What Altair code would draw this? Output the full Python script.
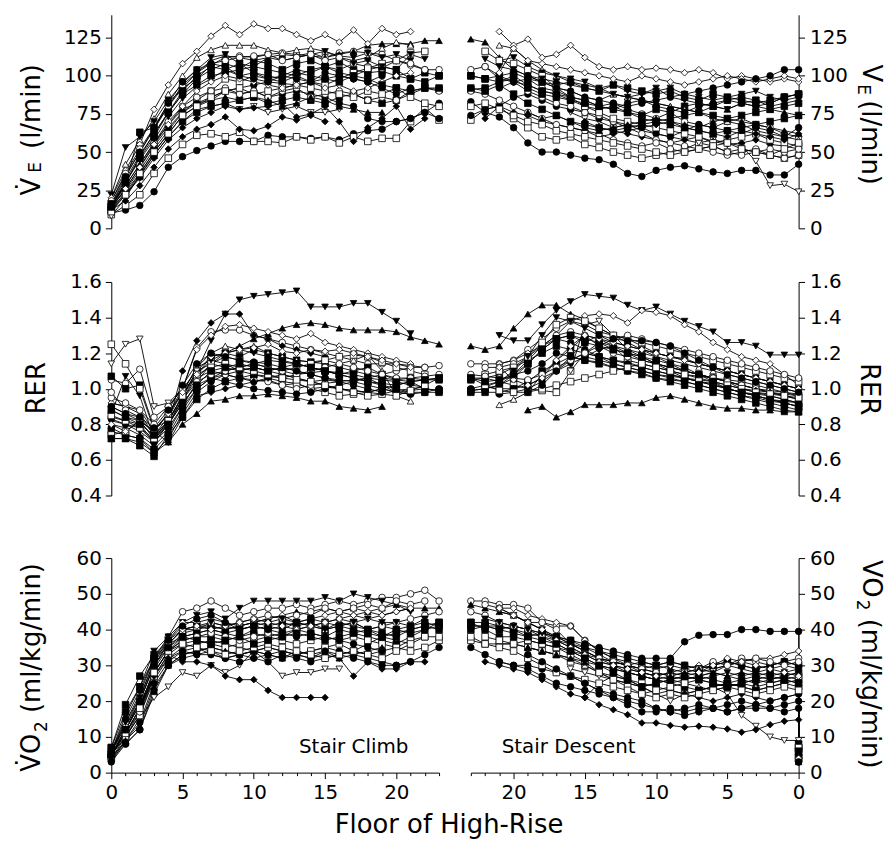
import altair as alt
import pandas as pd

N = None
FONT = "DejaVu Sans"

SUBJECTS = [f"S{i}" for i in range(1, 25)]
SHAPES = ["circle", "circle", "square", "square", "triangle-up", "triangle-up",
          "triangle-down", "triangle-down", "diamond", "diamond",
          "circle", "circle", "square", "square", "circle", "diamond",
          "square", "circle", "triangle-down", "triangle-up",
          "square", "diamond", "circle", "square"]
FILLS = ["black", "white", "black", "white", "black", "white", "black", "white", "black", "white",
         "black", "white", "black", "white", "black", "black", "black", "white", "black", "black",
         "white", "white", "black", "black"]

FLOOR_TICKS = list(range(24))
VE_TICKS = [0, 25, 50, 75, 100, 125]
RER_TICKS = [0.4, 0.6, 0.8, 1.0, 1.2, 1.4, 1.6]
VO2_TICKS = [0, 10, 20, 30, 40, 50, 60]

# ---- V_E, stair climb (index = floor 0..23) ----
VE_CLIMB = [
    [10,12,15,24,40,47,51,54,57,57,57,61,60,60,59,60,58,62,64,65,70,72,76,82],
    [16,30,47,62,76,88,98,107,112,113,112,114,115,114,113,112,115,116,115,114,110,107,104,104],
    [14,30,63,66,82,92,98,104,108,105,110,108,104,108,110,106,109,104,102,103,100,98,102,100],
    [9,15,22,36,46,55,61,62,60,63,57,57,56,60,58,60,56,60,57,59,59,70,79,71],
    [18,35,50,65,80,92,102,110,113,112,110,112,114,113,115,112,114,116,120,121,121,121,123,123],
    [20,42,58,72,88,100,112,117,120,120,120,117,115,117,118,116,112,110,112,118,122,120,N,N],
    [22,53,60,70,84,95,104,112,114,108,106,112,110,112,114,116,113,112,115,112,114,110,N,N],
    [8,20,35,48,60,70,78,80,82,78,80,76,78,80,76,76,78,N,N,N,N,N,N,N],
    [12,18,28,40,52,60,65,68,73,65,64,67,73,71,74,70,N,N,N,N,N,N,N,N],
    [20,38,55,78,94,108,116,126,133,127,134,131,131,127,123,127,122,130,121,131,127,129,N,N],
    [12,24,36,50,62,74,80,84,90,88,90,86,88,90,88,86,82,80,72,70,70,72,76,72],
    [18,36,52,66,80,94,102,108,110,112,113,114,110,112,114,110,112,108,106,105,110,108,104,N],
    [16,32,48,62,76,88,94,100,102,104,106,104,102,100,104,106,102,100,104,106,104,98,96,100],
    [13,26,40,54,66,76,84,90,98,96,100,98,96,100,96,94,98,102,105,108,110,115,116,N],
    [14,25,38,52,64,76,82,86,90,92,94,96,95,94,96,98,100,98,96,92,88,92,N,N],
    [14,22,33,46,58,66,72,76,80,78,79,80,82,73,75,80,70,57,66,72,80,65,72,N],
    [12,22,34,48,60,70,76,80,82,84,86,82,84,86,84,82,86,88,84,82,84,90,92,91],
    [14,28,42,56,70,80,86,90,92,88,90,86,90,92,86,88,90,88,84,86,84,88,92,90],
    [15,30,45,58,73,85,93,98,104,100,102,98,100,104,102,106,104,108,110,106,104,114,111,N],
    [15,28,42,56,68,78,82,84,86,84,86,84,80,82,86,84,80,78,76,76,N,N,N,N],
    [11,22,36,50,62,74,80,86,90,92,88,90,92,94,92,90,88,86,90,88,92,86,82,80],
    [14,26,40,55,68,80,90,96,100,98,96,94,92,94,96,92,94,90,92,96,100,102,N,N],
    [16,34,50,66,82,96,104,108,106,100,98,96,100,98,96,102,100,98,96,100,N,N,N,N],
    [14,30,46,60,76,90,100,106,104,108,102,100,98,102,100,98,96,100,98,94,92,90,92,92],
]

# ---- V_E, stair descent (index = floor 0..23) ----
VE_DESCENT = [
    [42,35,35,38,38,36,37,39,41,40,38,34,36,42,45,46,48,50,50,56,66,73,76,83],
    [60,62,66,68,72,70,66,68,70,76,72,75,78,82,80,84,86,90,92,98,96,100,106,104],
    [88,86,82,84,86,84,80,82,80,76,78,74,76,80,78,80,84,88,90,94,100,96,98,100],
    [48,46,48,50,52,50,54,56,52,50,48,46,48,50,53,55,60,58,60,66,72,80,78,71],
    [74,76,78,80,82,78,80,76,78,80,82,84,86,88,84,86,90,92,96,100,104,112,122,124],
    [58,60,62,64,68,70,72,76,78,80,82,84,86,88,92,94,96,100,104,110,118,120,N,N],
    [84,82,80,84,82,78,80,82,84,86,92,88,90,94,92,96,98,100,102,106,112,110,N,N],
    [24,29,28,44,54,56,58,56,58,60,62,64,68,66,70,72,76,N,N,N,N,N,N,N],
    [52,54,55,58,56,55,57,60,58,56,58,60,62,64,66,70,N,N,N,N,N,N,N,N],
    [96,98,96,98,100,98,102,104,102,104,105,104,106,104,106,112,120,114,112,124,120,129,N,N],
    [66,60,64,66,62,64,66,68,64,60,62,66,68,70,72,76,78,80,84,88,86,80,78,74],
    [48,46,48,52,50,48,50,52,54,56,58,62,66,70,74,76,80,82,86,90,96,98,106,N],
    [88,86,84,82,84,86,88,84,86,90,88,90,92,94,90,92,96,94,96,98,102,100,98,100],
    [54,56,58,62,60,58,56,60,62,64,66,68,70,72,76,80,86,92,100,104,108,110,116,N],
    [88,86,82,80,82,84,82,80,76,78,80,84,82,78,80,84,86,88,90,94,96,92,N,N],
    [62,58,60,62,64,60,62,64,66,70,68,66,64,62,60,64,66,68,70,74,76,80,72,N],
    [74,72,70,68,66,64,62,64,66,68,70,72,76,78,80,82,84,86,88,92,98,96,92,91],
    [52,50,52,50,48,50,54,52,50,52,56,54,56,58,62,64,66,68,72,76,80,84,88,90],
    [86,84,86,90,88,86,84,86,88,92,90,88,86,88,90,92,94,96,98,100,104,106,111,N],
    [62,64,66,68,70,72,70,66,68,70,72,70,68,66,64,66,70,74,72,76,N,N,N,N],
    [56,52,48,50,52,56,54,52,50,48,50,52,54,56,58,60,62,64,68,70,74,78,82,80],
    [98,100,98,96,98,100,98,96,94,96,98,100,96,98,100,102,104,106,108,110,118,102,N,N],
    [104,104,100,98,96,94,92,90,88,86,84,82,80,82,84,86,90,92,96,100,N,N,N,N],
    [82,80,78,76,74,72,74,76,74,72,70,68,66,64,66,68,70,74,78,82,88,94,90,92],
]

# ---- RER, stair climb ----
RER_CLIMB = [
    [0.84,0.82,0.80,0.70,0.80,0.92,1.02,1.06,1.08,1.06,1.04,1.05,1.02,1.03,1.00,1.01,1.00,0.99,0.98,1.00,0.98,0.97,0.98,1.00],
    [1.05,1.03,1.11,0.84,0.90,1.00,1.23,1.32,1.33,1.33,1.30,1.28,1.26,1.24,1.22,1.20,1.18,1.16,1.14,1.14,1.14,1.13,1.12,1.13],
    [1.07,1.00,1.02,0.78,0.82,0.96,1.10,1.18,1.20,1.18,1.22,1.20,1.18,1.16,1.15,1.14,1.12,1.10,1.08,1.06,1.05,1.06,1.05,1.05],
    [1.25,1.14,1.00,0.77,0.86,0.98,1.12,1.16,1.14,1.10,1.08,1.06,1.04,1.03,1.00,0.98,0.96,0.97,0.98,1.00,1.02,1.04,1.05,1.06],
    [0.80,0.78,0.74,0.68,0.76,0.90,1.04,1.14,1.20,1.24,1.28,1.31,1.34,1.36,1.37,1.36,1.34,1.33,1.33,1.33,1.32,1.29,1.27,1.25],
    [0.92,0.90,0.86,0.74,0.84,0.98,1.12,1.20,1.24,1.22,1.24,1.20,1.18,1.16,1.15,1.16,1.14,1.16,1.19,1.10,0.96,0.93,N,N],
    [0.86,1.07,0.96,0.72,0.82,0.96,1.10,1.27,1.42,1.50,1.52,1.53,1.54,1.55,1.46,1.46,1.46,1.48,1.48,1.43,1.38,1.31,N,N],
    [1.14,1.25,1.28,0.90,0.92,1.00,1.10,1.14,1.12,1.10,1.12,1.10,1.08,1.06,1.04,1.05,1.04,N,N,N,N,N,N,N],
    [0.90,0.86,0.82,0.72,0.80,1.10,1.27,1.37,1.42,1.42,1.30,1.28,1.24,1.22,1.20,1.18,N,N,N,N,N,N,N,N],
    [0.92,0.90,0.88,0.76,0.86,1.00,1.22,1.30,1.35,1.36,1.34,1.32,1.30,1.28,1.31,1.26,1.24,1.22,1.20,1.18,1.16,1.14,N,N],
    [0.78,0.74,0.72,0.64,0.72,0.86,0.98,1.04,1.08,1.10,1.12,1.10,1.12,1.10,1.08,1.06,1.05,1.04,1.02,1.00,0.98,0.99,1.00,0.99],
    [0.95,0.92,0.88,0.80,0.90,1.00,1.06,1.10,1.08,1.06,1.05,1.04,1.02,1.00,1.02,1.03,1.04,1.05,1.06,1.08,1.10,1.12,1.12,N],
    [0.76,0.74,0.72,0.66,0.74,0.88,1.00,1.06,1.10,1.12,1.14,1.16,1.15,1.14,1.12,1.10,1.08,1.10,1.12,1.08,1.05,1.04,1.00,0.99],
    [0.74,0.76,0.82,0.72,0.80,0.94,1.06,1.14,1.18,1.16,1.14,1.12,1.10,1.12,1.14,1.16,1.18,1.19,1.18,1.15,1.12,1.10,1.08,N],
    [0.83,0.80,0.78,0.70,0.78,0.90,1.00,1.06,1.04,1.02,1.00,0.99,0.98,0.97,0.98,1.00,1.02,1.04,1.06,1.02,0.98,0.97,N,N],
    [0.88,0.84,0.82,0.76,0.70,0.84,0.96,0.98,1.00,1.02,1.04,1.06,1.08,1.06,1.04,1.02,1.00,0.99,0.98,0.97,0.99,1.00,1.01,N],
    [0.72,0.72,0.68,0.62,0.74,0.84,0.94,1.00,1.04,1.06,1.08,1.07,1.06,1.08,1.09,1.10,1.08,1.06,1.04,1.02,1.00,0.98,0.98,0.98],
    [0.98,0.88,0.84,0.74,0.82,0.94,1.04,1.08,1.10,1.12,1.14,1.12,1.10,1.08,1.10,1.12,1.14,1.12,1.10,1.08,1.06,1.06,1.07,1.08],
    [0.82,0.80,0.76,0.70,0.80,0.94,1.08,1.16,1.20,1.22,1.20,1.18,1.16,1.14,1.12,1.10,1.09,1.08,1.06,1.05,1.04,1.02,1.01,N],
    [0.72,0.72,0.70,0.64,0.70,0.80,0.86,0.93,0.94,0.96,0.96,0.97,0.96,0.95,0.93,0.93,0.90,0.89,0.88,0.90,N,N,N,N],
    [0.85,0.82,0.78,0.72,0.82,0.96,1.08,1.12,1.14,1.12,1.10,1.08,1.06,1.05,1.04,1.02,1.00,0.98,0.96,0.97,0.96,0.99,1.02,1.06],
    [0.80,0.76,0.82,0.76,0.86,0.98,1.08,1.18,1.20,1.22,1.23,1.25,1.21,1.20,1.22,1.21,1.22,1.20,1.18,1.16,1.14,1.12,N,N],
    [0.90,0.86,0.84,0.78,0.88,1.02,1.14,1.20,1.18,1.16,1.15,1.14,1.12,1.10,1.08,1.06,1.04,1.02,1.00,0.98,N,N,N,N],
    [0.88,0.84,0.80,0.74,0.80,0.92,1.02,1.10,1.12,1.14,1.12,1.10,1.12,1.14,1.12,1.10,1.08,1.06,1.04,1.03,1.02,1.04,1.05,1.06],
]

# ---- RER, stair descent ----
RER_DESCENT = [
    [0.90,0.92,0.93,0.95,0.96,0.98,1.00,1.02,1.04,1.05,1.06,1.09,1.10,1.12,1.15,1.16,1.18,1.20,1.14,1.10,1.08,1.04,1.02,1.00],
    [1.00,1.02,1.04,1.06,1.08,1.10,1.12,1.14,1.17,1.18,1.20,1.24,1.28,1.30,1.32,1.36,1.38,1.34,1.28,1.22,1.16,1.14,1.14,1.14],
    [0.92,0.94,0.96,0.97,0.98,1.00,1.03,1.04,1.06,1.08,1.10,1.12,1.15,1.16,1.18,1.20,1.22,1.24,1.20,1.16,1.12,1.08,1.06,1.05],
    [0.96,0.98,1.00,1.02,1.04,1.05,1.06,1.07,1.08,1.10,1.12,1.14,1.16,1.24,1.26,1.20,1.10,0.98,0.99,1.00,1.02,1.04,1.06,1.06],
    [0.92,0.94,0.96,0.98,1.00,1.04,1.06,1.08,1.10,1.14,1.18,1.22,1.26,1.30,1.34,1.39,1.42,1.47,1.47,1.42,1.34,1.24,1.22,1.24],
    [0.98,1.00,1.02,1.04,1.06,1.08,1.10,1.12,1.14,1.16,1.18,1.20,1.22,1.24,1.28,1.30,1.22,1.16,1.08,0.98,0.94,0.91,N,N],
    [1.19,1.19,1.19,1.24,1.26,1.26,1.32,1.35,1.38,1.42,1.46,1.44,1.47,1.51,1.52,1.53,1.49,1.44,1.36,1.27,1.27,1.30,N,N],
    [0.94,0.96,0.98,1.00,1.02,1.04,1.06,1.08,1.10,1.12,1.14,1.18,1.22,1.30,1.38,1.36,1.10,N,N,N,N,N,N,N],
    [0.96,0.97,0.98,1.00,1.02,1.04,1.06,1.08,1.10,1.12,1.14,1.16,1.20,1.24,1.22,1.18,N,N,N,N,N,N,N,N],
    [1.02,1.08,1.14,1.16,1.18,1.22,1.26,1.32,1.36,1.41,1.43,1.44,1.37,1.41,1.42,1.41,1.38,1.30,1.24,1.20,1.16,1.14,N,N],
    [0.88,0.90,0.92,0.94,0.96,0.98,1.00,1.02,1.04,1.06,1.08,1.10,1.12,1.14,1.18,1.22,1.26,1.28,1.24,1.16,1.08,1.02,1.00,0.99],
    [0.97,0.98,0.99,1.00,1.02,1.04,1.06,1.08,1.10,1.12,1.14,1.16,1.18,1.20,1.24,1.30,1.32,1.30,1.24,1.18,1.14,1.12,1.12,N],
    [0.90,0.92,0.94,0.96,0.98,1.00,1.02,1.04,1.06,1.10,1.14,1.18,1.20,1.22,1.26,1.28,1.30,1.28,1.22,1.14,1.06,1.02,1.00,0.99],
    [1.04,1.06,1.08,1.10,1.12,1.14,1.16,1.18,1.20,1.22,1.24,1.26,1.28,1.30,1.34,1.38,1.40,1.36,1.26,1.18,1.12,1.10,1.08,N],
    [0.92,0.93,0.94,0.96,0.98,1.00,1.02,1.04,1.06,1.08,1.10,1.12,1.14,1.16,1.18,1.20,1.16,1.10,1.04,1.00,0.98,0.97,N,N],
    [0.94,0.96,0.98,0.99,1.00,1.02,1.04,1.05,1.06,1.07,1.08,1.10,1.12,1.14,1.16,1.18,1.14,1.10,1.06,1.02,1.00,1.00,1.01,N],
    [0.87,0.88,0.90,0.92,0.94,0.96,0.98,1.00,1.02,1.04,1.06,1.08,1.10,1.12,1.14,1.16,1.18,1.14,1.10,1.04,1.00,0.98,0.98,0.98],
    [1.06,1.08,1.10,1.12,1.14,1.16,1.18,1.20,1.22,1.24,1.26,1.28,1.30,1.28,1.24,1.20,1.16,1.12,1.08,1.05,1.06,1.06,1.07,1.08],
    [1.00,1.02,1.04,1.06,1.08,1.10,1.12,1.14,1.16,1.18,1.20,1.22,1.24,1.26,1.30,1.34,1.38,1.40,1.30,1.18,1.10,1.04,1.01,N],
    [0.87,0.87,0.88,0.88,0.89,0.89,0.90,0.92,0.94,0.96,0.95,0.92,0.92,0.91,0.91,0.91,0.87,0.84,0.90,0.88,N,N,N,N],
    [0.95,0.96,0.97,0.98,1.00,1.02,1.04,1.06,1.08,1.10,1.12,1.14,1.12,1.10,1.08,1.06,1.04,1.02,1.00,0.98,0.98,0.99,1.02,1.06],
    [1.00,1.02,1.04,1.06,1.08,1.10,1.12,1.14,1.16,1.18,1.20,1.22,1.24,1.26,1.28,1.30,1.24,1.16,1.06,1.02,1.05,1.12,N,N],
    [0.98,1.00,1.02,1.04,1.06,1.08,1.12,1.16,1.20,1.24,1.26,1.27,1.27,1.28,1.30,1.26,1.18,1.10,1.02,0.98,N,N,N,N],
    [0.90,0.92,0.94,0.96,0.98,1.00,1.04,1.08,1.12,1.14,1.16,1.18,1.20,1.22,1.24,1.26,1.30,1.28,1.22,1.14,1.08,1.05,1.04,1.06],
]

# ---- VO2, stair climb ----
VO2_CLIMB = [
    [4,8,12,22,30,33,34,35,34,33,34,35,34,33,34,35,34,33,32,31,30,31,33,35],
    [6,14,22,32,38,45,46,48,46,44,45,46,46,47,46,47,48,47,48,49,49,50,51,48],
    [7,19,27,33,37,40,41,41,40,41,42,41,42,41,42,40,41,42,40,41,40,41,42,41],
    [5,10,16,26,32,35,36,37,36,35,34,35,34,33,34,35,36,34,33,34,35,34,35,37],
    [6,13,20,30,36,40,40,41,40,41,42,43,44,45,44,46,45,46,45,46,47,46,46,46],
    [5,12,19,28,34,38,39,40,39,38,40,41,40,42,41,40,42,41,40,38,37,36,N,N],
    [6,16,24,34,38,42,44,45,43,46,48,48,48,48,48,49,48,50,49,48,47,45,N,N],
    [3,9,15,21,24,28,27,30,28,30,34,31,27,28,28,29,29,N,N,N,N,N,N,N],
    [5,11,18,27,33,31,31,30,27,26,26,23,21,21,21,21,N,N,N,N,N,N,N,N],
    [6,13,21,31,37,42,42,43,42,41,42,43,44,42,43,44,45,44,43,44,45,46,N,N],
    [4,9,14,25,31,34,35,33,32,31,32,31,33,32,31,32,33,34,36,38,40,39,40,41],
    [5,11,18,29,35,39,40,42,41,42,43,44,43,44,45,46,45,46,47,46,48,47,48,N],
    [5,12,19,28,34,37,38,38,37,38,39,38,39,40,39,38,40,39,38,37,36,38,40,42],
    [4,10,16,27,33,36,37,36,35,36,37,38,37,36,37,38,37,38,37,36,35,37,38,N],
    [3,8,12,23,30,32,33,34,32,33,34,33,32,33,32,34,33,32,31,30,30,31,N,N],
    [5,11,17,27,32,34,33,33,32,33,32,33,34,33,32,33,32,27,31,29,29,31,31,N],
    [7,17,24,32,36,38,39,40,39,40,41,40,41,42,43,42,41,40,39,38,39,40,41,42],
    [5,10,17,28,34,37,38,39,38,37,38,39,38,40,41,42,43,42,40,41,42,43,44,45],
    [6,14,21,31,36,40,41,42,41,40,41,42,43,42,41,40,41,42,43,42,42,41,43,N],
    [4,9,13,24,30,33,34,35,34,33,34,33,32,34,33,34,32,33,34,35,N,N,N,N],
    [5,11,18,28,34,36,35,34,33,34,35,36,35,34,33,32,33,34,33,32,34,36,38,38],
    [6,12,20,30,36,40,41,40,41,42,43,42,41,40,41,42,43,44,45,44,45,46,N,N],
    [6,15,23,32,37,41,43,44,42,40,41,40,39,38,39,38,37,36,35,34,N,N,N,N],
    [5,12,20,30,35,38,37,36,37,38,36,37,38,39,38,37,38,39,40,39,38,40,41,40],
]

# ---- VO2, stair descent ----
VO2_DESCENT = [
    [20,19,18,18,18,17,18,18,17,18,17,17,19,21,22,23,24,25,27,29,30,31,33,35],
    [32,31,30,31,32,30,29,28,29,28,27,28,30,32,34,37,41,41,42,46,47,47,48,48],
    [28,27,28,27,26,25,26,27,26,27,28,29,30,31,33,35,37,38,39,38,40,41,41,41],
    [24,25,24,23,24,25,24,23,22,23,24,25,26,27,28,30,31,33,34,35,36,36,36,37],
    [26,27,26,25,26,27,28,27,26,25,26,27,28,30,32,34,36,38,40,42,44,45,46,47],
    [25,26,25,24,25,24,23,24,25,26,25,24,25,26,28,30,32,33,34,35,36,36,N,N],
    [29,30,29,28,29,30,28,27,28,29,30,31,30,31,32,34,36,38,40,42,44,45,N,N],
    [9,9,10,13,16,22,24,23,22,20,22,24,25,26,27,28,29,N,N,N,N,N,N,N],
    [22,21,20,21,22,21,20,21,22,23,22,24,26,27,25,21,N,N,N,N,N,N,N,N],
    [34,33,32,32,31,30,29,30,29,30,29,30,31,32,34,37,41,42,43,44,46,46,N,N],
    [39.5,39.5,39.5,40,40,38.6,38.6,38.4,36.6,32,32,32,33,34,35,36,37,38,39,40,41,40,41,41],
    [30,31,30,29,30,31,30,29,30,31,30,29,30,31,32,34,36,40,42,42,44,46,47,N],
    [26,25,24,23,24,25,24,23,24,25,26,27,28,29,30,32,34,35,36,37,38,38,40,42],
    [27,26,25,26,25,24,25,26,25,24,23,22,24,26,28,31,33,35,36,37,36,37,38,N],
    [22,21,20,19,18,17,18,19,18,17,18,19,20,21,23,25,27,28,29,30,30,31,N,N],
    [14.8,14.4,13.4,12,11.3,12.2,12.7,13,12.7,13.2,13.9,13.9,16.2,17.6,19,21,22,24,26,28,29,30,31,N],
    [30,31,30,29,30,31,30,29,30,31,30,31,32,33,34,35,36,37,38,39,40,41,42,42],
    [31,30,31,32,31,30,31,29,28,27,28,29,30,31,32,33,34,36,38,40,41,42,44,45],
    [29,28,27,28,27,28,27,26,27,28,27,28,29,30,31,33,35,37,39,40,41,42,43,N],
    [28,27,26,27,28,27,28,29,28,27,26,27,28,29,30,31,32,33,34,35,N,N,N,N],
    [23,24,23,22,23,24,23,22,21,22,21,22,23,24,25,26,27,28,30,32,34,35,36,38],
    [27,28,29,30,31,32,30,28,27,26,27,28,29,30,31,33,35,37,40,42,44,46,N,N],
    [18,17,18,19,20,19,18,17,16,17,18,20,21,22,23,25,27,29,31,33,N,N,N,N],
    [25,26,27,26,25,24,25,26,27,26,25,24,26,28,30,32,34,36,37,38,39,40,41,40],
]

# resting value recorded at ground level after the descent
VO2_REST = [5, 6, 4, 7, 5, 3, 8, 4, 6, 5, 3, 7, 4, 6, 5, 3, 8, 4, 6, 5, 7, 4, 3, 6]

rows = []
def add(panel, arr, descending):
    for si, vals in enumerate(arr):
        vals = (list(vals) + [None] * 24)[:24]
        for fl, v in enumerate(vals):
            if v is None:
                continue
            rows.append(dict(panel=panel, subject=SUBJECTS[si], floor=fl, value=v,
                             seq=(-fl if descending else fl),
                             shape=SHAPES[si], fillc=FILLS[si]))

add("ve_l", VE_CLIMB, False)
add("ve_r", VE_DESCENT, True)
add("rer_l", RER_CLIMB, False)
add("rer_r", RER_DESCENT, True)
add("vo_l", VO2_CLIMB, False)
add("vo_r", VO2_DESCENT, True)
for si, v in enumerate(VO2_REST):
    rows.append(dict(panel="vo_r", subject=SUBJECTS[si], floor=0, value=v, seq=1,
                     shape=SHAPES[si], fillc=FILLS[si]))
df = pd.DataFrame(rows)

W = 330
PLOT_H = {"ve": 215, "rer": 215, "vo": 216}
CELL_H = {"ve": 215, "rer": 224, "vo": 216}   # rer cell taller: extra gap below it


def label(text, x, y, size, angle=0, align="left", baseline="alphabetic"):
    kw = dict(text=text, font=FONT, fontSize=size, color="black", align=align, baseline=baseline)
    if angle:
        kw["angle"] = angle
    return alt.Chart(pd.DataFrame({"k": [0]})).mark_text(**kw).encode(
        x=alt.value(x), y=alt.value(y))


def panel(key, kind, ydom, yvals, yfmt, side, bottom, texts):
    d = df[df.panel == key]
    if bottom:
        xaxis = alt.Axis(values=FLOOR_TICKS,
                         labelExpr="datum.value % 5 === 0 ? datum.label : ''",
                         tickSize={"condition": {"test": "datum.value % 5 === 0", "value": 6}, "value": 3},
                         labelPadding=4, labelFlush=False, labelOverlap=False,
                         title=None, grid=False)
    else:
        xaxis = None
    x = alt.X("floor:Q", scale=alt.Scale(domain=[0, 23], reverse=(side == "right"), nice=False, zero=False),
              axis=xaxis)
    y = alt.Y("value:Q", scale=alt.Scale(domain=ydom, nice=False, zero=False, range=[PLOT_H[kind], 0]),
              axis=alt.Axis(orient=side, values=yvals, format=yfmt, tickSize=6,
                            labelPadding=(4 if side == "left" else 5), title=None,
                            grid=False, labelFlush=False))
    base = alt.Chart(d).encode(x=x, y=y)
    lines = base.mark_line(color="black", strokeWidth=0.9).encode(
        detail="subject:N", order="seq:Q")
    pts = base.mark_point(filled=True, size=44, stroke="black", strokeWidth=0.8,
                          opacity=1, fillOpacity=1).encode(
        shape=alt.Shape("shape:N", scale=None),
        fill=alt.Fill("fillc:N", scale=None),
        detail="subject:N")
    return alt.layer(lines, pts, *texts).properties(width=W, height=CELL_H[kind])


TS = 26   # axis-title size
SS = 17   # subscript size

ve_l = panel("ve_l", "ve", [0, 140], VE_TICKS, "d", "left", False, [
    label("V\u0307", -72, 182, TS, angle=270),
    label("E", -70.5, 159, SS, angle=270),
    label("(l/min)", -72, 135, TS, angle=270),
])
ve_r = panel("ve_r", "ve", [0, 140], VE_TICKS, "d", "right", False, [
    label("V", 395, 50, TS, angle=90),
    label("E", 390, 70, SS, angle=90),
    label("(l/min)", 394, 86, TS, angle=90),
])
rer_l = panel("rer_l", "rer", [0.4, 1.6], RER_TICKS, ".1f", "left", False, [
    label("RER", -67, 107, TS, angle=270, align="center"),
])
rer_r = panel("rer_r", "rer", [0.4, 1.6], RER_TICKS, ".1f", "right", False, [
    label("RER", 393, 108, TS, angle=90, align="center"),
])
vo_l = panel("vo_l", "vo", [0, 60], VO2_TICKS, "d", "left", True, [
    label("V\u0307O", -72, 215, TS, angle=270),
    label("2", -65, 175, SS, angle=270),
    label("(ml/kg/min)", -72, 156, TS, angle=270),
    label("Stair Climb", 189, 196, 20),
    label("Floor of High-Rise", 340, 277, TS, align="center"),
])
vo_r = panel("vo_r", "vo", [0, 60], VO2_TICKS, "d", "right", True, [
    label("VO", 395, 2, TS, angle=90),
    label("2", 389, 42, SS, angle=90),
    label("(ml/kg/min)", 394, 61, TS, angle=90),
    label("Stair Descent", 31, 196, 20),
])

chart = alt.concat(ve_l, ve_r, rer_l, rer_r, vo_l, vo_r, columns=2,
                   spacing={"row": 54, "column": 32}, bounds="flush").properties(
    padding={"left": 10, "top": 4, "right": 4, "bottom": 0}
).configure_view(stroke=None).configure_axis(
    domainColor="black", tickColor="black", labelColor="black",
    labelFont=FONT, labelFontSize=20, domainWidth=1, tickWidth=1,
)

chart.save("out.html", embed_options={"renderer": "svg", "actions": False})
